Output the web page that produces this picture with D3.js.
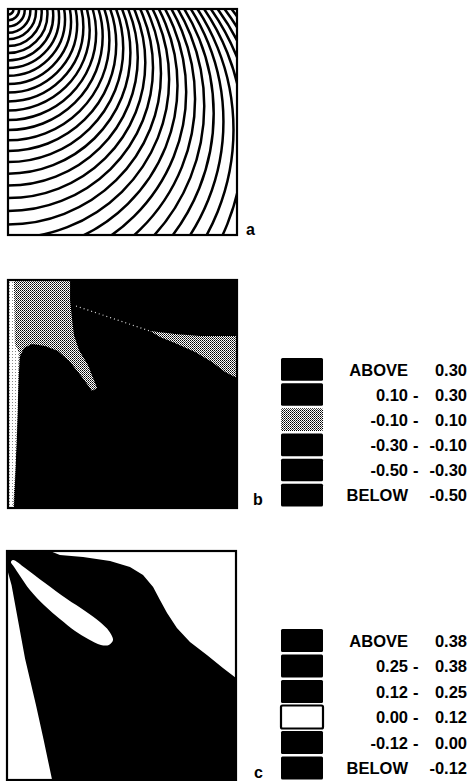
<!DOCTYPE html>
<html>
<head>
<meta charset="utf-8">
<script src="https://cdn.jsdelivr.net/npm/d3@7"></script>
<style>
body { margin: 0; background: #fff; }
text { font-family: "Liberation Sans", Arial, sans-serif; font-weight: bold; }
</style>
</head>
<body>
<svg id="chart" width="470" height="781"></svg>
<script>
// panel a: wavefront circles, centre depth and radius in % of panel
var arcCenter = [0.05,0.19,0.42,0.74,1.16,1.67,2.28,2.98,3.78,4.68,5.67,6.77,7.97,9.27,10.68,12.20,13.83,15.56,17.42,19.39,21.48,23.70,26.04,28.51,31.12,33.86,36.75,39.78,42.96,46.29,49.79,53.44,57.27,61.27,65.46,69.83,74.39];
var arcRadius = [2.43,4.87,7.31,9.77,12.23,14.72,17.23,19.76,22.32,24.91,27.54,30.21,32.92,35.68,38.49,41.35,44.28,47.27,50.33,53.46,56.67,59.96,63.33,66.80,70.37,74.03,77.81,81.69,85.70,89.82,94.08,98.47,103.01,107.69,112.53,117.53,122.70];

// panel b regions (x,y in % of panel)
var bMiddle = [[0,0],[27.1,0],[27.1,8.8],[28.0,17.5],[28.8,24.1],[31.0,30.7],[34.9,37.3],[38.9,47.4],[36.7,48.7],[32.3,42.5],[27.1,36.0],[21.8,31.1],[16.2,28.9],[10.5,28.1],[7.0,29.8],[5.2,33.5],[4.6,43.9],[4.0,65.8],[2.6,100],[0,100]];
var bStrip = [[0,0],[2.6,0],[3.0,28.0],[4.8,31.8],[4.3,52.6],[3.4,78.9],[2.2,100],[0,100]];
var bWedge = [[62.0,22.4],[72.9,23.7],[83.8,24.6],[100,24.6],[100,43.0],[94.8,40.4],[89.1,36.0],[81.7,31.6],[72.9,27.6],[66.4,25.0]];
var bTrace = [[29.7,11.4],[62.0,22.4]];

// panel c regions (class 0.00 - 0.12)
var cTopRight = [[18.8,0],[100,0],[100,55.5],[94.3,51.1],[87.3,45.4],[79.9,39.7],[74.2,33.6],[69.9,27.1],[66.8,21.4],[63.8,15.7],[59.4,10.5],[53.7,7.0],[45.0,4.4],[33.2,2.6],[23.1,1.7]];
var cBlob = [[2.6,3.9],[7.9,7.4],[16.6,14.0],[26.2,21.0],[34.1,26.2],[40.6,31.0],[44.5,34.9],[46.3,38.9],[44.5,41.0],[41.0,41.0],[35.4,38.4],[29.7,34.9],[23.1,29.7],[16.6,24.0],[10.0,17.0],[5.7,10.9],[3.1,7.0],[1.7,4.8]];
var cWedge = [[0.4,9.2],[2,15],[7.9,47],[12.6,67],[15.9,82],[19.7,100],[0,100]];

// legends
var lowB = ["ABOVE","0.10","-0.10","-0.30","-0.50","BELOW"];
var highB = ["0.30","0.30","0.10","-0.10","-0.30","-0.50"];
var lowC = ["ABOVE","0.25","0.12","0.00","-0.12","BELOW"];
var highC = ["0.38","0.38","0.25","0.12","0.00","-0.12"];

var svg = d3.select("#chart");
var defs = svg.append("defs");

// halftone patterns
var p1 = defs.append("pattern").attr("id","stip").attr("width",2).attr("height",2)
	.attr("patternUnits","userSpaceOnUse");
p1.append("rect").attr("width",2).attr("height",2).attr("fill","#fff");
p1.append("rect").attr("width",1).attr("height",1).attr("fill","#000");
p1.append("rect").attr("x",1).attr("y",1).attr("width",1).attr("height",1).attr("fill","#444");
var p2 = defs.append("pattern").attr("id","light").attr("width",3).attr("height",3)
	.attr("patternUnits","userSpaceOnUse");
p2.append("rect").attr("width",3).attr("height",3).attr("fill","#fff");
p2.append("rect").attr("width",1).attr("height",1).attr("fill","#888");

function clipFor(id, xs, ys) {
	defs.append("clipPath").attr("id", id).append("rect")
		.attr("x", xs(0)).attr("y", ys(0))
		.attr("width", xs(100) - xs(0)).attr("height", ys(100) - ys(0));
}
function frame(xs, ys) {
	svg.append("rect")
		.attr("x", xs(0)).attr("y", ys(0))
		.attr("width", xs(100) - xs(0)).attr("height", ys(100) - ys(0))
		.attr("fill","none").attr("stroke","#000").attr("stroke-width",2.2);
}

// ---- panel a ----
var xa = d3.scaleLinear().domain([0,100]).range([8,237]);
var ya = d3.scaleLinear().domain([0,100]).range([9,235]);
clipFor("clipA", xa, ya);
svg.append("g").attr("clip-path","url(#clipA)")
	.selectAll("ellipse").data(arcRadius).enter().append("ellipse")
	.attr("cx", xa(0))
	.attr("cy", function(d,i){ return ya(arcCenter[i]); })
	.attr("rx", function(d){ return xa(d) - xa(0); })
	.attr("ry", function(d){ return ya(d) - ya(0); })
	.attr("fill","none").attr("stroke","#000").attr("stroke-width",2.5);
frame(xa, ya);

// ---- panel b ----
var xb = d3.scaleLinear().domain([0,100]).range([8,237]);
var yb = d3.scaleLinear().domain([0,100]).range([280,508]);
clipFor("clipB", xb, yb);
var lineB = d3.line().x(function(d){ return xb(d[0]); }).y(function(d){ return yb(d[1]); });
var gb = svg.append("g").attr("clip-path","url(#clipB)");
gb.append("rect").attr("x",xb(0)).attr("y",yb(0)).attr("width",xb(100)-xb(0)).attr("height",yb(100)-yb(0)).attr("fill","#000");
gb.append("path").attr("d", lineB.curve(d3.curveLinearClosed)(bMiddle)).attr("fill","url(#stip)");
gb.append("path").attr("d", lineB.curve(d3.curveLinearClosed)(bStrip)).attr("fill","url(#light)");
gb.append("path").attr("d", lineB.curve(d3.curveLinearClosed)(bWedge)).attr("fill","url(#stip)");
gb.append("path").attr("d", lineB.curve(d3.curveLinear)(bTrace))
	.attr("stroke","#ddd").attr("stroke-width",1.2).attr("stroke-dasharray","1,3").attr("fill","none");
frame(xb, yb);

// ---- panel c ----
var xc = d3.scaleLinear().domain([0,100]).range([7,236]);
var yc = d3.scaleLinear().domain([0,100]).range([551,780]);
clipFor("clipC", xc, yc);
var lineC = d3.line().x(function(d){ return xc(d[0]); }).y(function(d){ return yc(d[1]); });
var gc = svg.append("g").attr("clip-path","url(#clipC)");
gc.append("rect").attr("x",xc(0)).attr("y",yc(0)).attr("width",xc(100)-xc(0)).attr("height",yc(100)-yc(0)).attr("fill","#000");
gc.append("path").attr("d", lineC.curve(d3.curveLinearClosed)(cTopRight)).attr("fill","#fff");
gc.append("path").attr("d", lineC.curve(d3.curveCatmullRomClosed)(cBlob)).attr("fill","#fff");
gc.append("path").attr("d", lineC.curve(d3.curveLinearClosed)(cWedge)).attr("fill","#fff");
frame(xc, yc);

// panel letters
svg.append("text").attr("x",246).attr("y",235).attr("font-size","16px").text("a");
svg.append("text").attr("x",253).attr("y",505).attr("font-size","16px").text("b");
svg.append("text").attr("x",254).attr("y",778).attr("font-size","16px").text("c");

// ---- legends ----
function legend(low, high, fills, ys) {
	var g = svg.append("g");
	var rows = g.selectAll("g").data(low).enter().append("g");
	rows.append("rect")
		.attr("x",281).attr("width",42)
		.attr("y", function(d,i){ return ys(i) + 1; })
		.attr("height", function(d,i){ return ys(i+1) - ys(i) - 2.5; })
		.attr("rx",1.5)
		.attr("fill", function(d,i){ return fills[i]; })
		.attr("stroke","#000")
		.attr("stroke-width", function(d,i){ return fills[i] === "#fff" ? 2.2 : 0; });
	rows.append("text")
		.attr("x",408).attr("text-anchor","end").attr("font-size","16.5px")
		.attr("y", function(d,i){ return (ys(i) + ys(i+1)) / 2 + 6; })
		.text(function(d){ return d; });
	rows.filter(function(d){ return d !== "ABOVE" && d !== "BELOW"; })
		.append("text")
		.attr("x",413).attr("font-size","16.5px")
		.attr("y", function(d){ var i = low.indexOf(d); return (ys(i) + ys(i+1)) / 2 + 6; })
		.text("-");
	rows.append("text")
		.attr("x",467).attr("text-anchor","end").attr("font-size","16.5px")
		.attr("y", function(d,i){ return (ys(i) + ys(i+1)) / 2 + 6; })
		.text(function(d,i){ return high[i]; });
}
legend(lowB, highB, ["#000","#000","url(#stip)","#000","#000","#000"],
	d3.scaleLinear().domain([0,6]).range([357,508]));
legend(lowC, highC, ["#000","#000","#000","#fff","#000","#000"],
	d3.scaleLinear().domain([0,6]).range([628,781]));
</script>
</body>
</html>
